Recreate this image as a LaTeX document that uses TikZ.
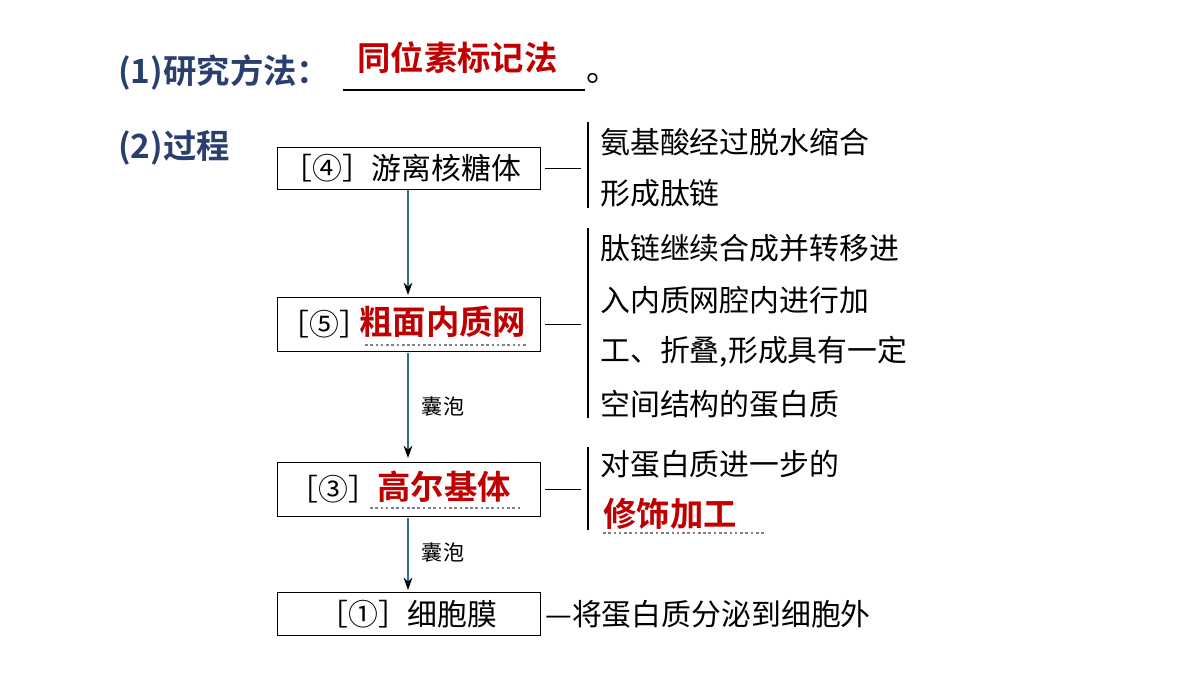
\documentclass[tikz,border=0pt]{standalone}
\usepackage{fontspec}
\setmainfont{Noto Sans CJK SC}
\newfontfamily\cjkb{Noto Sans CJK SC Bold}
\usetikzlibrary{arrows.meta}
\definecolor{tblue}{HTML}{2A3F6E}
\definecolor{dred}{HTML}{C00000}
\definecolor{lnk}{HTML}{2E6E8E}
\begin{document}
\begin{tikzpicture}[x={(0.02cm,0)},y={(0,-0.02cm)},
  box/.style={draw,line width=0.8pt,minimum width=5.26cm,minimum height=0.84cm,inner sep=0,anchor=north west},
  txt/.style={font=\fontsize{17}{20}\selectfont,anchor=west,inner sep=0},
  rtxt/.style={font=\cjkb\fontsize{19}{22}\selectfont,text=dred,anchor=west,inner sep=0},
  arr/.style={draw=lnk,line width=0.7pt,-{Stealth[black,length=7pt,width=5pt]}},
  lab/.style={font=\fontsize{12}{14}\selectfont,inner sep=0},
  br/.style={line width=0.7pt},
  uline/.style={gray,line width=0.8pt,dash pattern=on 1.5pt off 1.5pt}]
\useasboundingbox (0,0) rectangle (1200,675);
\node[font=\cjkb\fontsize{19}{22}\selectfont,text=tblue,anchor=west,inner sep=0] (t1) at (118,72) {(1)研究方法：};
\node[rtxt] (t1a) at (357,58) {同位素标记法};
\coordinate (u1) at (343,90); \coordinate (u2) at (585,90);
\draw[line width=1.2pt] (u1) -- (u2);
\node[txt,font=\fontsize{19}{22}\selectfont] (dot) at (586,78) {。};
\node[font=\cjkb\fontsize{19}{22}\selectfont,text=tblue,anchor=west,inner sep=0] (t2) at (118,148) {(2)过程};
% boxes
\node[box] (b1) at (277,147) {}; \node[box,minimum height=1.08cm] (b2) at (277,297) {};
\node[box,minimum height=1.08cm] (b3) at (277,462) {}; \node[box,minimum height=0.86cm] (b4) at (277,592) {};
\node[txt] (b1t) at (282,168) {［④］游离核糖体};
\node[txt] (b2l) at (279,324) {［⑤］};
\node[rtxt] (b2t) at (359,322) {粗面内质网};
\node[txt] (b3l) at (288,489) {［③］};
\node[rtxt] (b3t) at (377,487) {高尔基体};
\node[txt] (b4t) at (318,614) {［①］细胞膜};
\draw[uline] (365,345) -- (528,345);
\draw[uline] (370,508) -- (522,508);
% arrows
\draw[arr] (408,190) -- (408,295);
\draw[arr] (408,353) -- (408,458);
\draw[arr] (408,518) -- (408,590);
\node[lab] (v1) at (443,407) {囊泡};
\node[lab] (v2) at (443,553) {囊泡};
% dashes
\draw[br] (b1.east)++(4,0) -- ++(36,0);
\draw[br] (b2.east)++(4,0) -- ++(36,0);
\draw[br] (b3.east)++(4,0) -- ++(36,0);
% brackets
\draw[br] (588,122) -- (588,208);
\draw[br] (588,228) -- (588,418);
\draw[br] (588,447) -- (588,530);
\node[txt] (r1) at (600,142) {氨基酸经过脱水缩合};
\node[txt] (r2) at (600,193) {形成肽链};
\node[txt] (r3) at (600,248) {肽链继续合成并转移进};
\node[txt] (r4) at (600,300) {入内质网腔内进行加};
\node[txt] (r5) at (600,352) {工、折叠,形成具有一定};
\node[txt] (r6) at (600,404) {空间结构的蛋白质};
\node[txt] (r7) at (600,464) {对蛋白质进一步的};
\node[rtxt] (r8) at (603,514) {修饰加工};
\draw[uline] (603,533) -- (765,533);
\node[txt] (r9) at (545,614) {—将蛋白质分泌到细胞外};
\end{tikzpicture}
\end{document}
